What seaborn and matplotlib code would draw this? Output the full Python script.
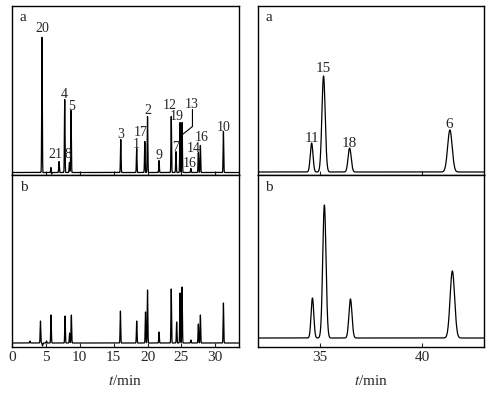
import numpy as np
import pandas as pd
import matplotlib
matplotlib.use('Agg')
import matplotlib.pyplot as plt
import seaborn as sns

# Peak retention times (min) and heights (px units above baseline)
left_a_t = [4.43, 4.50, 5.76, 5.82, 6.94, 7.78, 8.47, 8.71, 16.05, 18.4, 19.6, 20.0,
            21.7, 23.5, 24.2, 24.8, 25.1, 26.4, 27.5, 27.8, 31.2]
left_a_h = [136, -3, 6, -3, 11, 73, 10, 62, 33, 24, 31, 56,
            12, 56, 21, 50, 50, 4, 20, 27, 41]

left_b_t = [2.66, 4.2, 4.5, 5.1, 5.76, 7.83, 8.5, 8.76, 16.0, 18.4, 19.7, 20.0,
            21.7, 23.5, 24.3, 24.8, 25.1, 26.4, 27.5, 27.8, 31.2]
left_b_h = [2, 22, -3, 2, 28, 27, 10, 28, 32, 22, 31, 53,
            11, 54, 21, 50, 56, 3, 19, 28, 40]

right_a_t = [34.61, 35.19, 36.46, 41.34]
right_a_h = [29, 96, 24, 42]
right_b_t = [34.65, 35.23, 36.50, 41.46]
right_b_h = [40, 133, 39, 67]
right_sig = [0.065, 0.08, 0.075, 0.11]

# Peak labels (text, t, baseline y)
left_a_labels = [('20', 4.4, 140), ('21', 6.45, 15), ('8', 8.3, 15), ('4', 7.73, 74),
                 ('5', 8.72, 63), ('3', 16.0, 34.5), ('17', 19.0, 36.5), ('1', 18.36, 24.5),
                 ('2', 20.1, 58.5), ('9', 21.7, 13.5), ('12', 23.3, 63.5), ('19', 24.35, 52.5),
                 ('13', 26.5, 64.5), ('7', 24.2, 22), ('14', 26.8, 21), ('16', 27.97, 31.5),
                 ('16', 26.2, 6), ('10', 31.2, 41.5)]
right_a_labels = [('11', 34.61, 30.5), ('15', 35.16, 99.5), ('18', 36.46, 25.5), ('6', 41.32, 44)]


def trace(t, times, heights, sigmas):
    y = np.zeros_like(t)
    for t0, h, s in zip(times, heights, sigmas):
        y += h * np.exp(-(t - t0) ** 2 / (2 * s ** 2))
    return y


sns.set_style('ticks')
plt.rcParams['font.family'] = ['Liberation Serif', 'DejaVu Serif']
plt.rcParams['mathtext.fontset'] = 'stix'

fig = plt.figure(figsize=(5.04, 3.93), dpi=100)
W, H = 504, 393


def box(x0, y0, x1, y1):
    return [x0 / W, 1 - y1 / H, (x1 - x0) / W, (y1 - y0) / H]


ax_la = fig.add_axes(box(12, 6, 239, 175))
ax_lb = fig.add_axes(box(12, 175, 239, 347))
ax_ra = fig.add_axes(box(258, 6, 484, 175))
ax_rb = fig.add_axes(box(258, 175, 484, 347))

tl = np.linspace(0, 33.5, 8000)
tr = np.linspace(32, 43, 3000)

panels = [
    (ax_la, tl, trace(tl, left_a_t, left_a_h, [0.045] * len(left_a_t)), (-2.5, 166.5), 'a'),
    (ax_lb, tl, trace(tl, left_b_t, left_b_h, [0.045] * len(left_b_t)), (-4, 168), 'b'),
    (ax_ra, tr, trace(tr, right_a_t, right_a_h, right_sig), (-3, 166), 'a'),
    (ax_rb, tr, trace(tr, right_b_t, right_b_h, right_sig), (-9, 163), 'b'),
]

for ax, t, y, ylim, letter in panels:
    df = pd.DataFrame({'t': t, 'y': y})
    sns.lineplot(data=df, x='t', y='y', ax=ax, color='black', lw=0.9, estimator=None)
    ax.set_xlim(t[0], t[-1])
    ax.set_ylim(*ylim)
    ax.set_yticks([])
    ax.set_xlabel('')
    ax.set_ylabel('')
    for s in ax.spines.values():
        s.set_visible(True)
        s.set_linewidth(1.0)
        s.set_color('black')
    ax.tick_params(axis='x', direction='in', length=3, width=0.8, labelsize=11, pad=3)
    ax.text(0.05, 0.93, letter, transform=ax.transAxes, fontsize=11,
            ha='center', va='center')

for ax in (ax_la, ax_lb):
    ax.set_xticks([0, 5, 10, 15, 20, 25, 30])
for ax in (ax_ra, ax_rb):
    ax.set_xticks([35, 40])
ax_la.tick_params(labelbottom=False)
ax_ra.tick_params(labelbottom=False)

for txt, x, yy in left_a_labels:
    ax_la.text(x, yy, txt, fontsize=10, ha='center', va='baseline')
for txt, x, yy in right_a_labels:
    ax_ra.text(x, yy, txt, fontsize=11, ha='center', va='baseline')

# leader line for peak 13
ax_la.plot([26.63, 26.63, 25.07], [63, 46, 37.5], color='black', lw=0.8)

ax_lb.set_xlabel('$t$/min', fontsize=11, labelpad=7)
ax_rb.set_xlabel('$t$/min', fontsize=11, labelpad=7)

fig.savefig('out.png', dpi=100)
